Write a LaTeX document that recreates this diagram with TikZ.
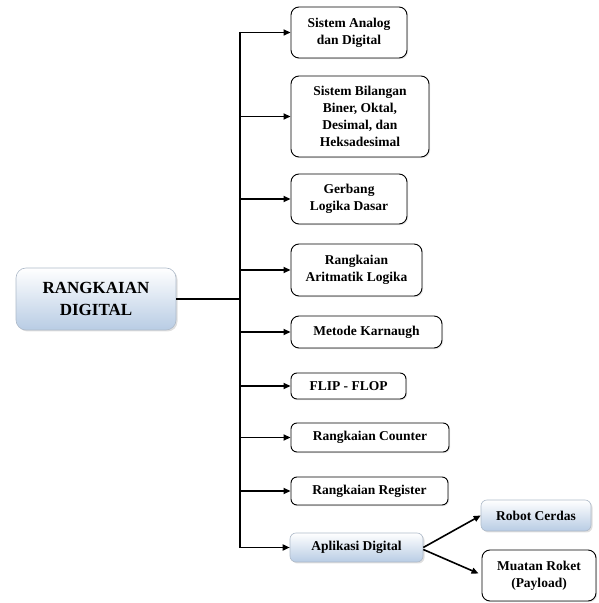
\documentclass[tikz,border=0pt]{standalone}
\usepackage{fontspec}
\setmainfont{Liberation Serif}
\usetikzlibrary{arrows.meta,shadows}
\definecolor{lblue}{RGB}{184,204,228}
\definecolor{bborder}{RGB}{120,140,165}
\tikzset{
  wbox/.style={draw=black, line width=0.9pt, rounded corners=8pt, align=center, inner sep=1pt,
    font=\bfseries\fontsize{13.5}{17}\selectfont, fill=white,
    drop shadow={opacity=0.18, shadow xshift=1.2pt, shadow yshift=-1.2pt}},
  gbox/.style={draw=bborder!60, line width=0.6pt, rounded corners=6pt, align=center, inner sep=1pt,
    font=\bfseries\fontsize{13.5}{17}\selectfont, top color=white, bottom color=lblue,
    drop shadow={opacity=0.25, shadow xshift=1.5pt, shadow yshift=-1.5pt}},
  conn/.style={line width=1.6pt, black},
  arr/.style={conn, -{Triangle[length=7pt,width=6pt]}},
}
\begin{document}
\begin{tikzpicture}[x=1pt,y=1pt]
\useasboundingbox (0,0) rectangle (598,603);
% main
\node[gbox, rounded corners=10pt, minimum width=160pt, minimum height=62pt,
  font=\bfseries\fontsize{17}{22}\selectfont] (main) at (96,304) {RANGKAIAN\\DIGITAL};
% children
\node[wbox, minimum width=116pt, minimum height=51pt] (b1) at (349,570.5) {Sistem Analog\\dan Digital};
\node[wbox, minimum width=138pt, minimum height=81pt] (b2) at (360,486.5) {Sistem Bilangan\\Biner, Oktal,\\Desimal, dan\\Heksadesimal};
\node[wbox, minimum width=116pt, minimum height=50pt] (b3) at (349,404) {Gerbang\\Logika Dasar};
\node[wbox, minimum width=131pt, minimum height=52pt] (b4) at (356.5,333) {Rangkaian\\Aritmatik Logika};
\node[wbox, minimum width=151pt, minimum height=32pt] (b5) at (366.5,271) {Metode Karnaugh};
\node[wbox, minimum width=115pt, minimum height=26pt, rounded corners=6pt] (b6) at (348.5,217) {FLIP - FLOP};
\node[wbox, minimum width=158pt, minimum height=29pt, rounded corners=6pt] (b7) at (370,165.5) {Rangkaian Counter};
\node[wbox, minimum width=157pt, minimum height=28pt, rounded corners=6pt] (b8) at (369.5,112) {Rangkaian Register};
\node[gbox, minimum width=133pt, minimum height=29pt] (b9) at (356.5,55.5) {Aplikasi Digital};
\node[gbox, minimum width=110pt, minimum height=31pt] (c1) at (536,87.5) {Robot Cerdas};
\node[wbox, minimum width=114pt, minimum height=51pt] (c2) at (539,27.5) {Muatan Roket\\(Payload)};
% trunk
\coordinate (ttop) at (240,571);
\coordinate (tbot) at (240,55);
\draw[conn] (ttop) -- (tbot);
\draw[conn] (main.east) -- (main.east -| ttop);
\foreach \b in {b1,b2,b3,b4,b5,b6,b7,b8,b9}{
  \draw[arr] (\b.west -| ttop) -- (\b.west);
}
\draw[arr] (b9.east) -- (c1.west);
\draw[arr] ([yshift=-2pt]b9.east) -- ([xshift=-3pt,yshift=2pt]c2.west);
\end{tikzpicture}
\end{document}
